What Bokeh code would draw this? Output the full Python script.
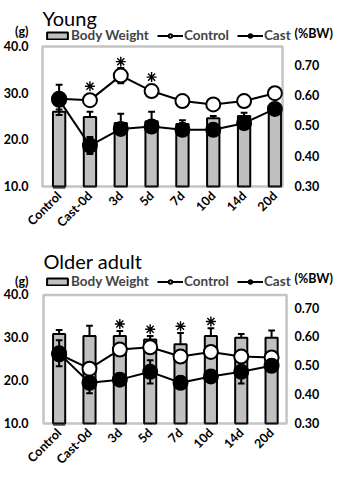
import math
from bokeh.plotting import figure
from bokeh.models import (Range1d, LinearAxis, FixedTicker, Label, Legend, LegendItem,
                          NumeralTickFormatter, BoxAnnotation)
from bokeh.layouts import column
from bokeh.embed import file_html
from bokeh.resources import INLINE

categories = ["Control", "Cast-0d", "3d", "5d", "7d", "10d", "14d", "20d"]
left_ticks = [10, 20, 30, 40]
right_ticks = [0.3, 0.4, 0.5, 0.6, 0.7]
legend_labels = ["Body Weight", "Control", "Cast"]
left_unit = "(g)"
right_unit = "(%BW)"

young_bw = [26.0, 24.9, 23.6, 24.0, 23.4, 24.6, 25.1, 27.3]
young_bw_err = [0.5, 1.1, 2.0, 2.0, 0.8, 0.5, 0.7, 0.5]
young_ctrl = [0.590, 0.585, 0.666, 0.615, 0.582, 0.571, 0.582, 0.608]
young_ctrl_err = [0.0, 0.01, 0.025, 0.01, 0.005, 0.005, 0.005, 0.005]
young_cast = [0.586, 0.435, 0.490, 0.498, 0.487, 0.487, 0.509, 0.556]
young_cast_err = [0.05, 0.028, 0.01, 0.01, 0.01, 0.01, 0.01, 0.01]
young_sig = [1, 2, 3]

older_bw = [30.9, 30.4, 30.4, 29.6, 28.5, 30.4, 30.0, 30.0]
older_bw_err = [0.9, 2.4, 1.2, 0.8, 2.6, 1.8, 0.9, 1.7]
older_ctrl = [0.540, 0.490, 0.556, 0.564, 0.532, 0.548, 0.532, 0.529]
older_ctrl_err = [0.015, 0.01, 0.02, 0.02, 0.01, 0.01, 0.01, 0.01]
older_cast = [0.543, 0.441, 0.452, 0.479, 0.441, 0.463, 0.479, 0.500]
older_cast_err = [0.045, 0.036, 0.02, 0.04, 0.01, 0.01, 0.04, 0.01]
older_sig = [2, 3, 4, 5]

FONT = "Lato"
BAR_FILL = "#c0c0c0"
CAP = 0.11
W = 335


def err_segments(p, xs, vals, errs, both, **kw):
    lo = [v - e if both else v for v, e in zip(vals, errs)]
    hi = [v + e for v, e in zip(vals, errs)]
    p.segment(x0=xs, y0=lo, x1=xs, y1=hi, line_color="black", line_width=2, **kw)
    p.segment(x0=[x - CAP for x in xs], y0=hi, x1=[x + CAP for x in xs], y1=hi,
              line_color="black", line_width=2, **kw)
    if both:
        p.segment(x0=[x - CAP for x in xs], y0=lo, x1=[x + CAP for x in xs], y1=lo,
                  line_color="black", line_width=2, **kw)


def panel(title, bw, bw_err, ctrl, ctrl_err, cast, cast_err, sig, sig_on_bars, star_gap,
          height, b_bottom, xr, box_x, yr, rr, g_tick, bw_tick, title_y, legend_y):
    xs = list(range(len(categories)))
    p = figure(width=W, height=height, x_range=Range1d(*xr), y_range=Range1d(*yr),
               output_backend="svg", toolbar_location=None,
               min_border_left=40, min_border_right=43,
               min_border_top=0, min_border_bottom=b_bottom)
    p.extra_y_ranges = {"r": Range1d(*rr)}
    p.grid.visible = False
    p.outline_line_color = None

    # visible plot box, placed on the value scales
    p.add_layout(BoxAnnotation(left=box_x[0], right=box_x[1], bottom=left_ticks[0],
                               top=left_ticks[-1], fill_alpha=0, line_color="#3a3a3a",
                               line_width=2.5, level="overlay"))

    xa = p.xaxis[0]
    xa.ticker = FixedTicker(ticks=xs)
    xa.major_label_overrides = {i: c for i, c in enumerate(categories)}
    xa.major_label_orientation = math.pi / 4
    ya = p.yaxis[0]
    ya.ticker = FixedTicker(ticks=left_ticks + [g_tick])
    ya.formatter = NumeralTickFormatter(format="0.0")
    ya.major_label_overrides = {g_tick: left_unit}
    ra = LinearAxis(y_range_name="r", ticker=FixedTicker(ticks=right_ticks + [bw_tick]),
                    formatter=NumeralTickFormatter(format="0.00"))
    ra.major_label_overrides = {bw_tick: right_unit}
    p.add_layout(ra, "right")
    for ax in (xa, ya, ra):
        ax.axis_line_color = None
        ax.major_tick_line_color = None
        ax.minor_tick_line_color = None
        ax.major_tick_out = 0
        ax.major_tick_in = 0
        ax.major_label_text_font = FONT
        ax.major_label_text_font_style = "bold"
        ax.major_label_text_font_size = "12.5px"
        ax.major_label_text_color = "black"
    xa.major_label_standoff = 5
    ya.major_label_standoff = 12
    ra.major_label_standoff = 3

    p.vbar(x=xs, top=bw, bottom=left_ticks[0], width=0.4, fill_color=BAR_FILL,
           line_color="black", line_width=2)
    err_segments(p, xs, bw, bw_err, False)
    err_segments(p, xs, ctrl, ctrl_err, True, y_range_name="r")
    err_segments(p, xs, cast, cast_err, True, y_range_name="r")
    p.line(xs, ctrl, line_color="black", line_width=2, y_range_name="r")
    p.line(xs, cast, line_color="black", line_width=2, y_range_name="r")
    p.scatter(xs, ctrl, size=14, fill_color="white", line_color="black",
              line_width=2, y_range_name="r")
    p.scatter(xs, cast, size=14, fill_color="black", line_color="black",
              line_width=2, y_range_name="r")

    # significance asterisks
    sx = [xs[i] for i in sig]
    if sig_on_bars:
        sy = [bw[i] + bw_err[i] + star_gap for i in sig]
        p.scatter(sx, sy, marker="asterisk", size=10, line_color="black", line_width=1.4)
    else:
        sy = [ctrl[i] + star_gap for i in sig]
        p.scatter(sx, sy, marker="asterisk", size=10, line_color="black", line_width=1.4,
                  y_range_name="r")

    # legend swatches: proxy renderers kept below the visible value range
    lb = p.vbar(x=[xs[0]], top=[yr[0]], bottom=yr[0], width=0.4, fill_color=BAR_FILL,
                line_color="black", line_width=2)
    lcl = p.line(x=[xs[0]], y=[yr[0] - 5], line_color="black", line_width=2)
    lcc = p.scatter(x=[xs[0]], y=[yr[0] - 5], size=10, fill_color="white",
                    line_color="black", line_width=2)
    lkl = p.line(x=[xs[0]], y=[yr[0] - 5], line_color="black", line_width=2)
    lkc = p.scatter(x=[xs[0]], y=[yr[0] - 5], size=10, fill_color="black",
                    line_color="black", line_width=2)
    legend = Legend(items=[LegendItem(label=legend_labels[0], renderers=[lb]),
                           LegendItem(label=legend_labels[1], renderers=[lcl, lcc]),
                           LegendItem(label=legend_labels[2], renderers=[lkl, lkc])],
                    orientation="horizontal", location=(4, legend_y),
                    glyph_width=26, glyph_height=9, label_height=12, label_standoff=1,
                    spacing=8, padding=0, margin=0, border_line_color=None,
                    background_fill_alpha=0, label_text_font=FONT,
                    label_text_font_style="bold", label_text_font_size="13.5px")
    p.add_layout(legend)

    p.add_layout(Label(x=box_x[0], y=title_y, text=title, text_font=FONT,
                       text_font_size="20px", text_baseline="alphabetic",
                       text_color="black"))
    return p


p1 = panel("Young", young_bw, young_bw_err, young_ctrl, young_ctrl_err, young_cast,
           young_cast_err, young_sig, False, 0.046,
           height=238, b_bottom=50,
           xr=(-0.604, 7.538), box_x=(-0.54, 7.247),
           yr=(9.571, 49.86), rr=(0.2934, 0.9139),
           g_tick=43.2, bw_tick=0.805, title_y=46.2, legend_y=145)
p2 = panel("Older adult", older_bw, older_bw_err, older_ctrl, older_ctrl_err, older_cast,
           older_cast_err, older_sig, True, 1.6,
           height=237, b_bottom=48,
           xr=(-0.614, 7.656), box_x=(-0.515, 7.493),
           yr=(9.538, 53.15), rr=(0.2931, 0.9409),
           g_tick=43.23, bw_tick=0.804, title_y=47.84, legend_y=136)

layout = column(p1, p2, spacing=0)
open("out.html", "w").write(file_html(layout, INLINE))
